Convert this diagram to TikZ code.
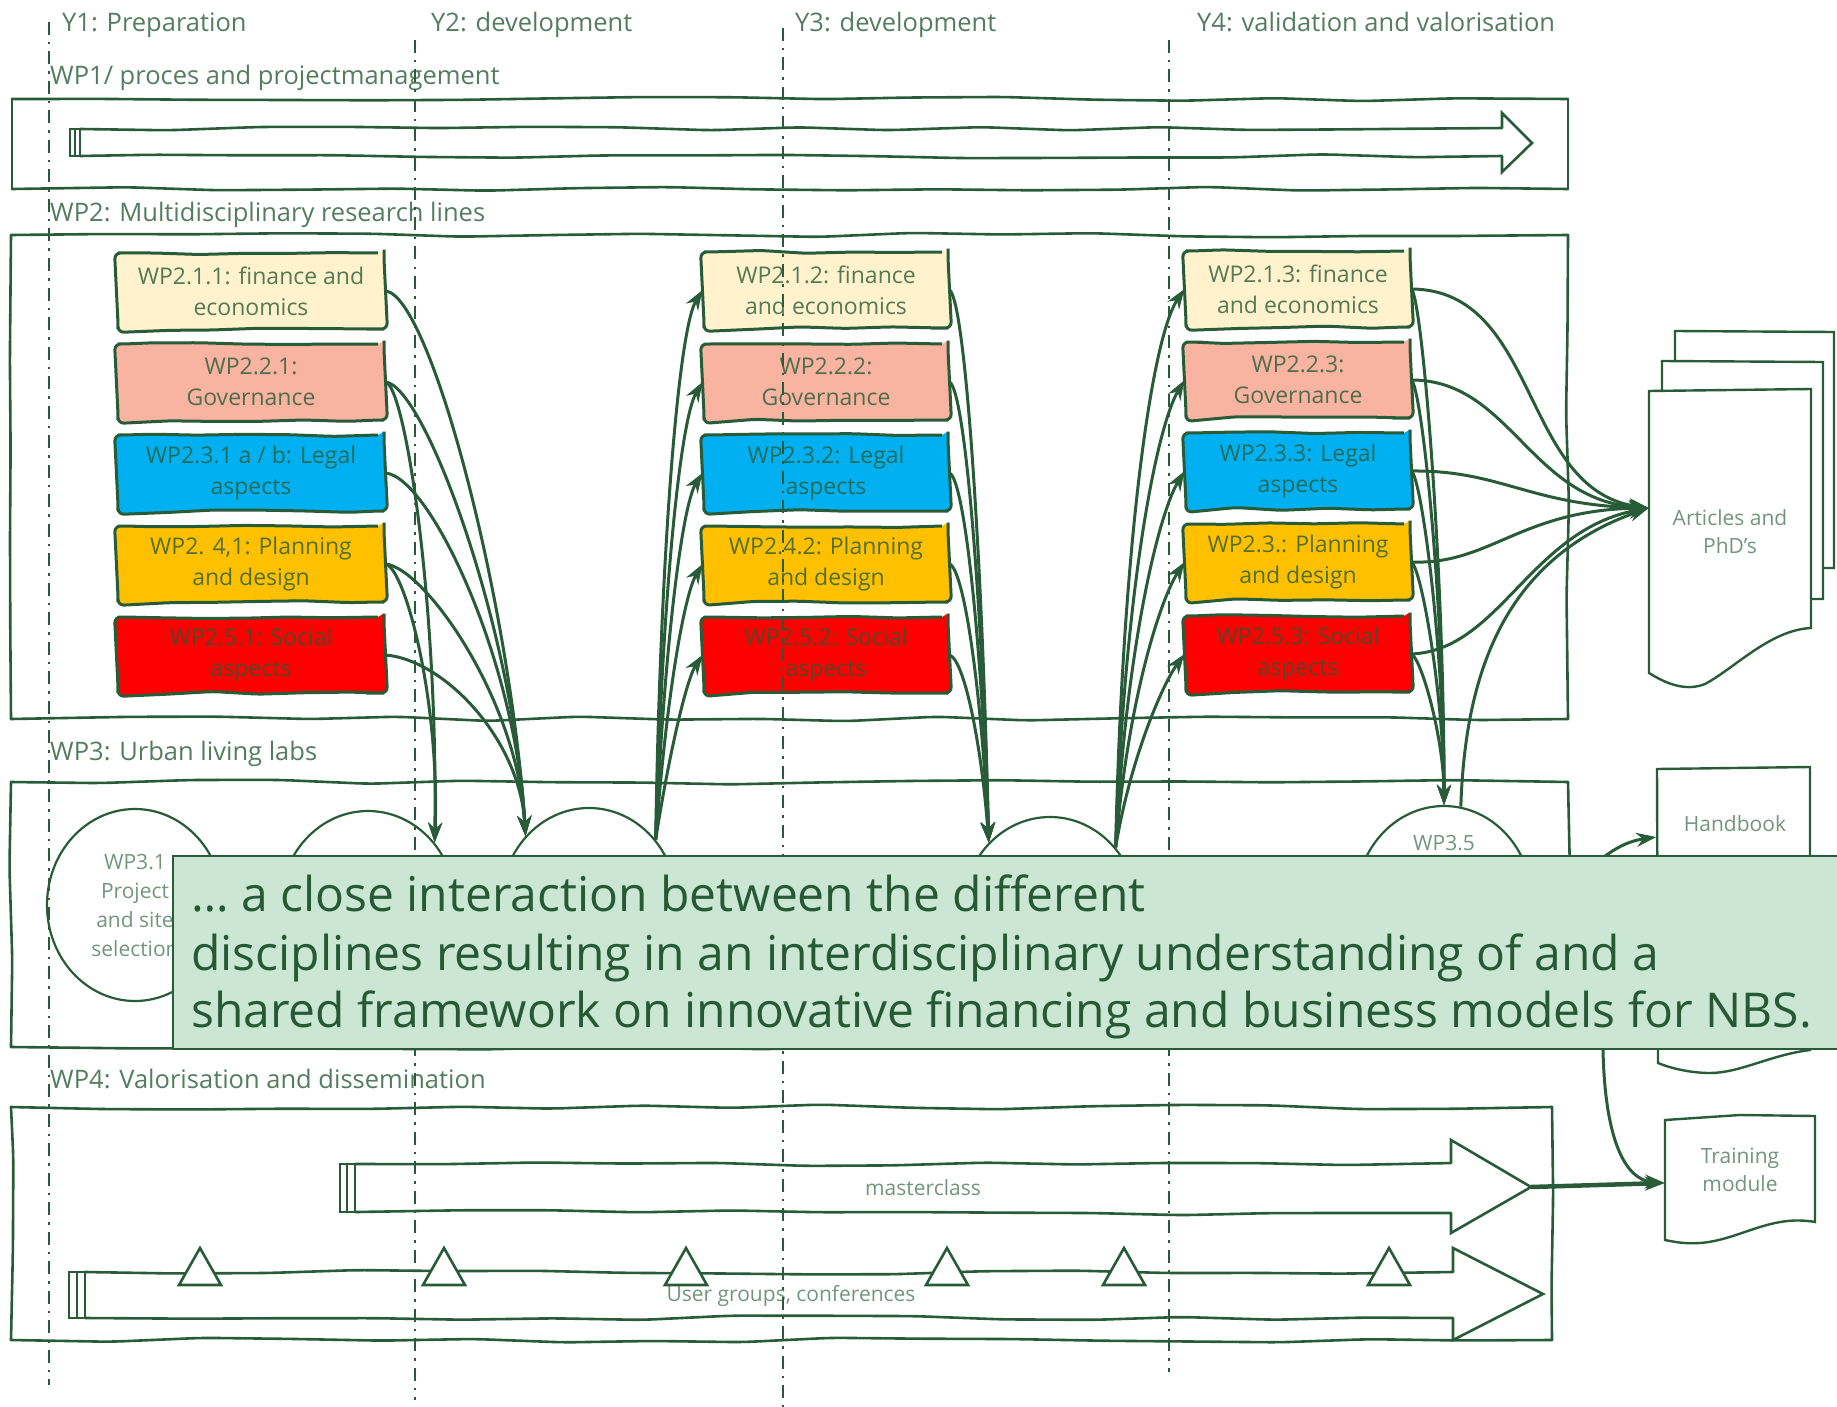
\documentclass[tikz,border=0pt]{standalone}
\usepackage{fontspec}
\setmainfont{Open Sans}
\usetikzlibrary{arrows.meta,shapes.geometric,decorations.pathmorphing}
\definecolor{lc}{HTML}{285B38}
\definecolor{finc}{HTML}{FFF2CC}
\definecolor{govc}{HTML}{F8B4A0}
\definecolor{legc}{HTML}{00B0F0}
\definecolor{plac}{HTML}{FFC000}
\definecolor{socc}{HTML}{FF0000}
\definecolor{ovc}{HTML}{CCE6D4}
\definecolor{ovtc}{HTML}{255A35}
\newcommand{\myfs}[2]{\fontsize{#1}{#2}\selectfont}
\newcommand{\sketchrect}[4]{%
  \draw[wpbox] (#1,#2) -- (#3,#2);
  \draw[wpbox] (#3,#2) -- (#3,#4);
  \draw[wpbox] (#3,#4) -- (#1,#4);
  \draw[wpbox] (#1,#4) -- (#1,#2);}
\begin{document}
\begin{tikzpicture}[x=1pt,y=-1pt,
 wpbox/.style={draw=lc,line width=2.6pt,line cap=round,decorate,decoration={random steps,segment length=90pt,amplitude=2.5pt},rounded corners=12pt},
 blk/.style={draw=lc,line width=2.6pt,line cap=round,decorate,decoration={random steps,segment length=90pt,amplitude=2.5pt},rounded corners=12pt},
 pln/.style={draw=lc,line width=2.6pt,line join=miter},
 wbox/.style={draw=lc,line width=3pt,decorate,decoration={random steps,segment length=45pt,amplitude=1.5pt},rounded corners=6pt,minimum height=76pt,inner sep=0pt,align=center,text=lc,text opacity=0.8,font=\myfs{23}{31}},
 ell/.style={ellipse,draw=lc,line width=2.2pt,minimum width=176pt,minimum height=192pt,inner sep=0pt,align=center,text=lc,text opacity=0.65,font=\myfs{21}{29}},
 conn/.style={draw=lc,line width=3pt,-{Stealth[length=20pt,width=14pt]}},
 hd/.style={anchor=base west,inner sep=0pt,text=lc,text opacity=0.8,font=\myfs{25.5}{30}},
 lbl/.style={inner sep=0pt,text=lc,text opacity=0.65,align=center,font=\myfs{21}{28}},
 docsh/.style={draw=lc,line width=2.4pt},
 yline/.style={draw=lc,line width=2.4pt,dash pattern=on 13pt off 7pt on 2.5pt off 7pt},
 ovline/.style={anchor=base west,inner sep=0pt,text=ovtc,font=\myfs{48}{58}}
]
\pgfmathsetseed{11}
\useasboundingbox (0,0) rectangle (1837,1407);

% work package frames
\sketchrect{12}{99}{1568}{189}
\sketchrect{11}{235}{1568}{719}
\sketchrect{11}{782}{1568}{1047}
\sketchrect{11}{1107}{1552}{1340}

% WP1 arrow
\draw[blk] (80,129) -- (1502,128);
\draw[blk] (1502,156) -- (80,156);
\draw[pln] (1502,128) -- (1502,113) -- (1532,143) -- (1502,172) -- (1502,156);
\draw[pln] (70,129) rectangle (80,156);
\draw[pln] (75,129) -- (75,156);

% masterclass arrow
\draw[blk] (355,1164) -- (1451,1163);
\draw[blk] (1451,1213) -- (355,1212);
\draw[pln] (1451,1163) -- (1451,1140) -- (1531,1187) -- (1451,1233) -- (1451,1213);
\draw[pln] (340,1164) rectangle (355,1212);
\draw[pln] (347,1164) -- (347,1212);
\coordinate (mctip) at (1531,1187);
\node[lbl] (mct) at (923,1188) {masterclass};

% user groups arrow
\draw[blk] (85,1272) -- (1453,1272);
\draw[blk] (1453,1318) -- (85,1318);
\draw[pln] (1453,1272) -- (1453,1248) -- (1543,1294) -- (1453,1340) -- (1453,1318);
\draw[pln] (69,1272) rectangle (85,1318);
\draw[pln] (77,1272) -- (77,1318);
\node[lbl] (ugt) at (791,1296) {User groups, conferences};
\foreach \x in {200,444,686,947,1124,1389}
  \draw[pln,fill=white] (\x-21,1285) -- (\x,1248) -- (\x+21,1285) -- cycle;

% living lab ellipses
\node[ell] (E1) at (135,905) {WP3.1\\Project\\and site\\selection};
\node[ell] (E2) at (368,907) {};
\node[ell] (E3) at (589,904) {};
\node[ell] (E4) at (1050,913) {};
\node[ell] (E5) at (1444,902) {};
\node[lbl] (E5t) at (1444,843) {WP3.5};

% research line boxes
\node[wbox,fill=finc,minimum width=266pt] (c11) at (251,291) {WP2.1.1: finance and\\economics};
\node[wbox,fill=govc,minimum width=266pt] (c12) at (251,382) {WP2.2.1:\\Governance};
\node[wbox,fill=legc,minimum width=266pt] (c13) at (251,473) {WP2.3.1 a / b: Legal\\aspects};
\node[wbox,fill=plac,minimum width=266pt] (c14) at (251,564) {WP2. 4,1: Planning\\and design};
\node[wbox,fill=socc,minimum width=266pt] (c15) at (251,655) {WP2.5.1: Social\\aspects};

\node[wbox,fill=finc,minimum width=244pt] (c21) at (826,290) {WP2.1.2: finance\\and economics};
\node[wbox,fill=govc,minimum width=244pt] (c22) at (826,382) {WP2.2.2:\\Governance};
\node[wbox,fill=legc,minimum width=244pt] (c23) at (826,473) {WP2.3.2: Legal\\aspects};
\node[wbox,fill=plac,minimum width=244pt] (c24) at (826,564) {WP2.4.2: Planning\\and design};
\node[wbox,fill=socc,minimum width=244pt] (c25) at (826,655) {WP2.5.2: Social\\aspects};

\node[wbox,fill=finc,minimum width=224pt] (c31) at (1298,289) {WP2.1.3: finance\\and economics};
\node[wbox,fill=govc,minimum width=224pt] (c32) at (1298,380) {WP2.2.3:\\Governance};
\node[wbox,fill=legc,minimum width=224pt] (c33) at (1298,471) {WP2.3.3: Legal\\aspects};
\node[wbox,fill=plac,minimum width=224pt] (c34) at (1298,562) {WP2.3.: Planning\\and design};
\node[wbox,fill=socc,minimum width=224pt] (c35) at (1298,654) {WP2.5.3: Social\\aspects};

% output documents
\draw[docsh] (1675,361) -- (1675,331) -- (1834,332) -- (1834,568) -- (1823,568);
\draw[docsh,fill=white] (1662,391) -- (1662,361) -- (1823,362) -- (1823,599) -- (1811,599);
\draw[docsh,fill=white] (1649,391) -- (1811,389) -- (1811,628) .. controls (1770,630) and (1735,668) .. (1705,684) .. controls (1685,692) and (1665,683) .. (1649,673) -- cycle;
\node[lbl,minimum width=162pt,minimum height=282pt] (art) at (1730,532) {Articles and\\PhD’s};

\draw[docsh,fill=white] (1657,769) -- (1810,767) -- (1810,1050) .. controls (1770,1055) and (1740,1073) .. (1710,1073) .. controls (1690,1073) and (1670,1068) .. (1658,1063) -- cycle;
\node[lbl,minimum width=153pt,minimum height=296pt] (hb) at (1733,917) {};
\node[lbl] (hbt) at (1735,824) {Handbook};

\draw[docsh,fill=white] (1665,1120) -- (1740,1115) -- (1815,1116) -- (1815,1222) .. controls (1770,1214) and (1740,1240) .. (1700,1243) .. controls (1685,1244) and (1675,1242) .. (1665,1240) -- cycle;
\node[lbl,minimum width=150pt,minimum height=124pt] (tm) at (1740,1178) {};
\node[lbl] (tmt) at (1740,1170) {Training\\module};

% connectors: year 1 lines to labs
\draw[conn] (c11.east) .. controls (430,295) and (510,600) .. (E3.133);
\draw[conn] (c12.east) .. controls (425,386) and (514,630) .. (E3.133);
\draw[conn] (c13.east) .. controls (430,477) and (516,660) .. (E3.133);
\draw[conn] (c14.east) .. controls (425,568) and (518,700) .. (E3.133);
\draw[conn] (c15.east) .. controls (445,660) and (520,740) .. (E3.133);
\draw[conn] (c12.east) .. controls (405,386) and (438,600) .. (E2.44);
\draw[conn] (c14.east) .. controls (405,568) and (440,700) .. (E2.44);

% labs to year 2 lines
\draw[conn] (E3.44) .. controls (660,560) and (678,330) .. (c21.west);
\draw[conn] (E3.44) .. controls (662,600) and (680,420) .. (c22.west);
\draw[conn] (E3.44) .. controls (664,650) and (682,505) .. (c23.west);
\draw[conn] (E3.44) .. controls (666,700) and (684,595) .. (c24.west);
\draw[conn] (E3.44) .. controls (668,760) and (686,680) .. (c25.west);

% year 2 lines to labs
\draw[conn] (c21.east) .. controls (965,300) and (982,550) .. (E4.131);
\draw[conn] (c22.east) .. controls (965,390) and (982,600) .. (E4.131);
\draw[conn] (c23.east) .. controls (965,480) and (982,650) .. (E4.131);
\draw[conn] (c24.east) .. controls (965,570) and (982,700) .. (E4.131);
\draw[conn] (c25.east) .. controls (965,660) and (982,750) .. (E4.131);

% labs to year 3 lines
\draw[conn] (E4.45) .. controls (1122,560) and (1150,340) .. (c31.west);
\draw[conn] (E4.45) .. controls (1124,600) and (1155,430) .. (c32.west);
\draw[conn] (E4.45) .. controls (1126,650) and (1158,515) .. (c33.west);
\draw[conn] (E4.45) .. controls (1128,700) and (1160,600) .. (c34.west);
\draw[conn] (E4.45) .. controls (1130,760) and (1162,685) .. (c35.west);

% year 3 lines to lab 5
\draw[conn] (c31.east) .. controls (1422,300) and (1444,560) .. (E5.north);
\draw[conn] (c32.east) .. controls (1422,390) and (1444,600) .. (E5.north);
\draw[conn] (c33.east) .. controls (1422,480) and (1444,650) .. (E5.north);
\draw[conn] (c34.east) .. controls (1422,570) and (1444,700) .. (E5.north);
\draw[conn] (c35.east) .. controls (1422,660) and (1444,740) .. (E5.north);

% year 3 lines to articles
\draw[conn] (c31.east) .. controls (1540,290) and (1520,490) .. ([yshift=24pt]art.west);
\draw[conn] (c32.east) .. controls (1510,380) and (1530,500) .. ([yshift=24pt]art.west);
\draw[conn] (c33.east) .. controls (1500,470) and (1530,505) .. ([yshift=24pt]art.west);
\draw[conn] (c34.east) .. controls (1490,565) and (1520,510) .. ([yshift=24pt]art.west);
\draw[conn] (c35.east) .. controls (1500,650) and (1530,530) .. ([yshift=24pt]art.west);
\draw[conn] (E5.80) .. controls (1465,680) and (1500,560) .. ([yshift=24pt]art.west);

% lab 5 to handbook and training
\draw[conn] (E5.east) .. controls (1580,890) and (1600,845) .. ([yshift=80pt]hb.west);
\draw[conn] (E5.east) .. controls (1595,910) and (1603,980) .. (1603,1050) .. controls (1605,1140) and (1625,1180) .. ([yshift=-5pt]tm.west);
\draw[conn,line width=4.5pt] (mctip) -- ([yshift=-5pt]tm.west);

% year separators
\draw[yline] (49,22) -- (49,1385);
\draw[yline] (415,40) -- (415,1400);
\draw[yline] (783,28) -- (783,1407);
\draw[yline] (1169,40) -- (1169,1372);

% headings
\node[hd] (y1) at (62,32) {Y1: Preparation};
\node[hd] (y2) at (431,32) {Y2: development};
\node[hd] (y3) at (795,32) {Y3: development};
\node[hd] (y4) at (1197,32) {Y4: validation and valorisation};
\node[hd] (wp1) at (50,85) {WP1/ proces and projectmanagement};
\node[hd] (wp2) at (50,222) {WP2: Multidisciplinary research lines};
\node[hd] (wp3) at (50,760) {WP3: Urban living labs};
\node[hd] (wp4) at (50,1088) {WP4: Valorisation and dissemination};

% overlay
\node[draw=lc,line width=1.5pt,fill=ovc,anchor=north west,minimum width=1700pt,minimum height=193pt,inner sep=0pt] (ov) at (172,855) {};
\node[ovline] (ov1) at (191,911) {… a close interaction between the different};
\node[ovline] (ov2) at (191,970) {disciplines resulting in an interdisciplinary understanding of and a};
\node[ovline] (ov3) at (191,1027) {shared framework on innovative financing and business models for NBS.};
\end{tikzpicture}
\end{document}
